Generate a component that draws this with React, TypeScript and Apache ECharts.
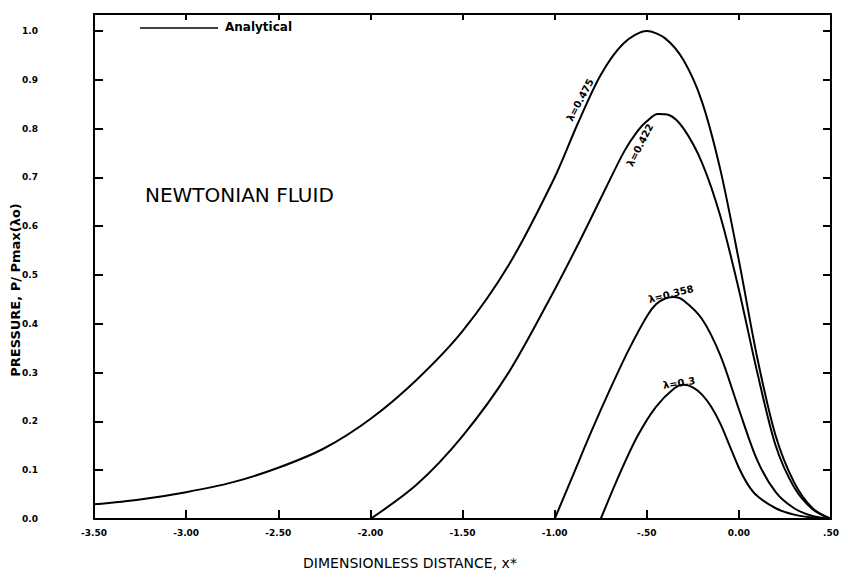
import React, { useEffect, useRef } from 'react';
import * as echarts from 'echarts';

const xTickLabels = ['-3.50', '-3.00', '-2.50', '-2.00', '-1.50', '-1.00', '-.50', '0.00', '.50'];
const yTickLabels = ['0.0', '0.1', '0.2', '0.3', '0.4', '0.5', '0.6', '0.7', '0.8', '0.9', '1.0'];

const curveNames = ['λ=0.475', 'λ=0.422', 'λ=0.358', 'λ=0.3'];

const xA = [-3.5, -3.25, -3.0, -2.75, -2.5, -2.25, -2.0, -1.75, -1.5, -1.25, -1.0, -0.875, -0.75, -0.625, -0.5, -0.4, -0.3, -0.2, -0.1, 0.0, 0.1, 0.2, 0.3, 0.4, 0.5];
const yA = [0.03, 0.04, 0.055, 0.075, 0.105, 0.145, 0.205, 0.285, 0.385, 0.52, 0.7, 0.81, 0.91, 0.975, 1.0, 0.985, 0.94, 0.855, 0.715, 0.53, 0.33, 0.17, 0.075, 0.022, 0.0];

const xB = [-2.0, -1.75, -1.5, -1.25, -1.0, -0.85, -0.72, -0.62, -0.55, -0.5, -0.44, -0.38, -0.3, -0.2, -0.1, 0.0, 0.1, 0.2, 0.3, 0.4, 0.5];
const yB = [0.0, 0.07, 0.17, 0.3, 0.47, 0.58, 0.68, 0.755, 0.795, 0.815, 0.83, 0.828, 0.8, 0.73, 0.62, 0.47, 0.3, 0.15, 0.065, 0.02, 0.0];

const xC = [-1.0, -0.9, -0.8, -0.7, -0.6, -0.5, -0.45, -0.4, -0.35, -0.3, -0.2, -0.1, 0.0, 0.1, 0.2, 0.3, 0.4, 0.5];
const yC = [0.0, 0.09, 0.18, 0.265, 0.345, 0.415, 0.44, 0.452, 0.455, 0.448, 0.41, 0.335, 0.225, 0.12, 0.055, 0.022, 0.006, 0.0];

const xD = [-0.75, -0.65, -0.55, -0.45, -0.35, -0.3, -0.25, -0.2, -0.15, -0.1, -0.05, 0.0, 0.05, 0.1, 0.2, 0.3, 0.4, 0.5];
const yD = [0.0, 0.09, 0.17, 0.23, 0.268, 0.275, 0.27, 0.255, 0.23, 0.195, 0.15, 0.105, 0.07, 0.047, 0.022, 0.009, 0.003, 0.0];

const curvesX = [xA, xB, xC, xD];
const curvesY = [yA, yB, yC, yD];

const FONT = '"DejaVu Sans", sans-serif';

export default function App() {
  const ref = useRef<HTMLDivElement>(null);
  useEffect(() => {
    if (!ref.current) return;
    const chart = echarts.init(ref.current, null, { renderer: 'svg' });
    const axisCommon = {
      type: 'value' as const,
      axisLine: { show: true, onZero: false, lineStyle: { color: '#000', width: 2 } },
      splitLine: { show: false },
    };
    const option: any = {
      animation: false,
      backgroundColor: '#fff',
      grid: { left: 94, right: 17, top: 14, bottom: 59, containLabel: false },
      xAxis: [
        {
          ...axisCommon,
          min: -3.5,
          max: 0.5,
          interval: 0.5,
          position: 'bottom',
          axisTick: { show: true, inside: true, length: 9, lineStyle: { color: '#000', width: 2 } },
          axisLabel: {
            margin: 9,
            fontFamily: FONT,
            fontWeight: 'bold',
            fontSize: 9,
            color: '#000',
            formatter: (_v: number, i: number) => xTickLabels[i] ?? '',
          },
        },
        {
          ...axisCommon,
          min: -3.5,
          max: 0.5,
          interval: 0.5,
          position: 'top',
          axisTick: { show: true, inside: true, length: 6, lineStyle: { color: '#000', width: 2 } },
          axisLabel: { show: false },
        },
      ],
      yAxis: [
        {
          ...axisCommon,
          min: 0,
          max: 1.035,
          interval: 0.1,
          position: 'left',
          axisTick: { show: true, inside: true, length: 9, lineStyle: { color: '#000', width: 2 } },
          axisLabel: {
            margin: 56,
            showMaxLabel: false,
            fontFamily: FONT,
            fontWeight: 'bold',
            fontSize: 9,
            color: '#000',
            formatter: (_v: number, i: number) => yTickLabels[i] ?? '',
          },
        },
        {
          ...axisCommon,
          min: 0,
          max: 1.035,
          interval: 0.1,
          position: 'right',
          axisTick: { show: true, inside: true, length: 8, lineStyle: { color: '#000', width: 2 } },
          axisLabel: { show: false },
        },
      ],
      series: curveNames.map((name, k) => ({
        name,
        type: 'line',
        xAxisIndex: 0,
        yAxisIndex: 0,
        data: curvesX[k].map((x, j) => [x, curvesY[k][j]]),
        showSymbol: false,
        smooth: 0.3,
        lineStyle: { color: '#000', width: 2 },
        silent: true,
      })),
      graphic: [
        { type: 'line', shape: { x1: 140, y1: 28, x2: 218, y2: 28 }, style: { stroke: '#000', lineWidth: 1.5 } },
        { type: 'text', x: 225, y: 27, style: { text: 'Analytical', font: `bold 12px ${FONT}`, fill: '#000', verticalAlign: 'middle' } },
        { type: 'text', x: 145, y: 195, style: { text: 'NEWTONIAN FLUID', font: `20px ${FONT}`, fill: '#000', verticalAlign: 'middle' } },
        { type: 'text', x: 580, y: 100, rotation: 1.08, style: { text: curveNames[0], font: `bold 10px ${FONT}`, fill: '#000', align: 'center', verticalAlign: 'middle' } },
        { type: 'text', x: 640, y: 145, rotation: 1.1, style: { text: curveNames[1], font: `bold 10px ${FONT}`, fill: '#000', align: 'center', verticalAlign: 'middle' } },
        { type: 'text', x: 671, y: 294, rotation: 0.25, style: { text: curveNames[2], font: `bold 10px ${FONT}`, fill: '#000', align: 'center', verticalAlign: 'middle' } },
        { type: 'text', x: 679, y: 383, rotation: 0.15, style: { text: curveNames[3], font: `bold 10px ${FONT}`, fill: '#000', align: 'center', verticalAlign: 'middle' } },
        { type: 'text', x: 15, y: 290, rotation: Math.PI / 2, style: { text: 'PRESSURE, P/ Pmax(λo)', font: `bold 13px ${FONT}`, fill: '#000', align: 'center', verticalAlign: 'middle' } },
        { type: 'text', x: 410, y: 563, style: { text: 'DIMENSIONLESS DISTANCE, x*', font: `14px ${FONT}`, fill: '#000', align: 'center', verticalAlign: 'middle' } },
      ],
    };
    chart.setOption(option);
    return () => chart.dispose();
  }, []);
  return <div ref={ref} style={{ width: 848, height: 578, margin: -8 }} />;
}
